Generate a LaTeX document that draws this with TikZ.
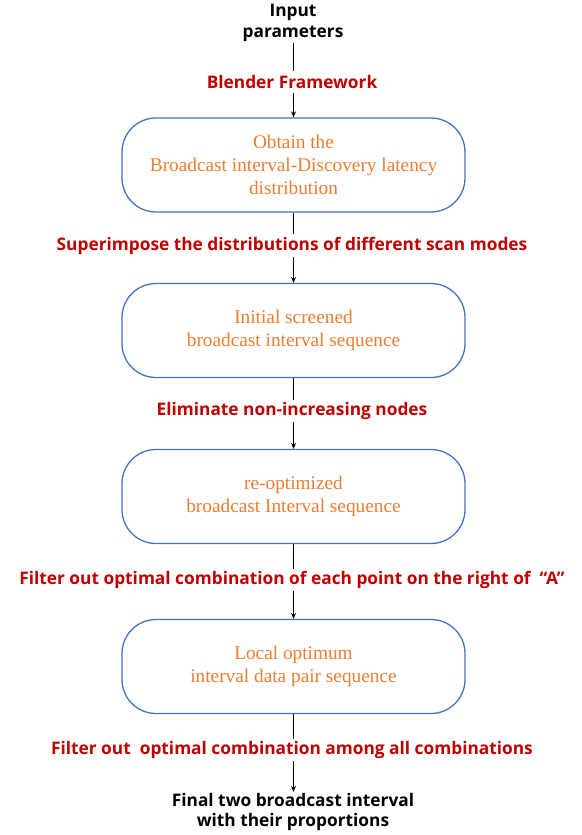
\documentclass[tikz,border=0pt]{standalone}
\usepackage{fontspec}
\setmainfont{Liberation Serif}
\newfontfamily\labelfont{Open Sans}
\usetikzlibrary{arrows.meta}
\definecolor{stepred}{HTML}{C00000}
\definecolor{steporange}{HTML}{ED7D31}
\definecolor{boxblue}{HTML}{4472C4}
\tikzset{
  stepbox/.style={draw=boxblue, line width=1.3pt, rounded corners=34pt,
    minimum width=343pt, minimum height=94pt, align=center,
    text=steporange, font=\fontsize{19.3}{23}\selectfont, inner sep=0pt},
  actionlabel/.style={text=stepred, font=\labelfont\bfseries\fontsize{17.3}{20}\selectfont,
    inner sep=0pt, minimum height=22pt},
  endpoint/.style={text=black, font=\labelfont\bfseries\fontsize{17.3}{20.5}\selectfont,
    align=center, inner sep=1pt},
  link/.style={line width=0.8pt, black},
  arrowlink/.style={link, -{Stealth[length=6pt,width=5pt]}}
}
\begin{document}
\begin{tikzpicture}[x=1pt,y=1pt]
  \useasboundingbox[fill=white] (0,0) rectangle (581,-835);

  \node[endpoint] (in) at (293,-23) {Input\\parameters};
  \node[actionlabel] (l1) at (292,-82) {Blender Framework};
  \node[stepbox] (b1) at (293.5,-165) {Obtain the\\Broadcast interval-Discovery latency\\distribution};
  \node[actionlabel] (l2) at (292,-245.5) {Superimpose the distributions of different scan modes};
  \node[stepbox] (b2) at (293.5,-330.5) {Initial screened\\broadcast interval sequence};
  \node[actionlabel] (l3) at (292,-411) {Eliminate non-increasing nodes};
  \node[stepbox] (b3) at (293.5,-496.5) {re-optimized\\broadcast Interval sequence};
  \node[actionlabel] (l4) at (292,-580) {Filter out optimal combination of each point on the right of \ “A”};
  \node[stepbox] (b4) at (293.5,-666.5) {Local optimum\\interval data pair sequence};
  \node[actionlabel] (l5) at (292,-750) {Filter out\ \ optimal combination among all combinations};
  \node[endpoint] (out) at (293,-812) {Final two broadcast interval\\with their proportions};

  \draw[link] (in.south -| b1.north) -- (l1.north -| b1.north);
  \draw[arrowlink] (l1.south -| b1.north) -- (b1.north);
  \draw[link] (b1.south) -- (l2.north -| b1.south);
  \draw[arrowlink] (l2.south -| b2.north) -- (b2.north);
  \draw[link] (b2.south) -- (l3.north -| b2.south);
  \draw[arrowlink] (l3.south -| b3.north) -- (b3.north);
  \draw[link] (b3.south) -- (l4.north -| b3.south);
  \draw[arrowlink] (l4.south -| b4.north) -- (b4.north);
  \draw[link] (b4.south) -- (l5.north -| b4.south);
  \draw[arrowlink] (l5.south -| b4.south) -- (out.north -| b4.south);
\end{tikzpicture}
\end{document}
